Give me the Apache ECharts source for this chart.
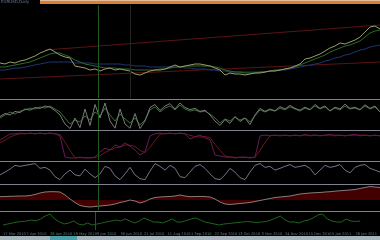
<!DOCTYPE html>
<html><head><meta charset="utf-8">
<script src="https://cdn.jsdelivr.net/npm/echarts@6/dist/echarts.min.js"></script>
<style>html,body{margin:0;padding:0;background:#000;}#c{width:380px;height:240px;}</style>
</head><body><div id="c"></div>
<script>
// ---- data (one value per bar) ----
const price = [37,36,38,37,39,40,42,44,47,49,51,48,45,43,42,34,33,32,30,31,29,31,32,30,31,30,29,26,25,27,29,30,30,31,33,35,33,34,35,36,36,35,34,32,30,25,27,26,26,25,26,27,27,28,29,29,30,31,32,34,36,41,42,44,46,49,52,54,57,56,58,60,63,68,73,74,71];
const maFast = [33,33,34,35,36,37,38,40,42,44,46,47,47,45,43,40,38,36,35,34,33,32,32,32,31,31,31,30,30,30,30,30,31,31,32,33,33,34,34,34,34,34,34,33,32,30,29,28,28,27,27,27,28,28,29,30,30,31,32,33,35,37,39,41,43,45,48,50,52,54,55,57,59,63,67,69,70];
const maSlow = [30,30,31,32,32,33,34,35,36,37,38,38,38,38,38,37,37,37,37,36,36,36,36,36,36,35,35,34,34,34,33,33,33,33,33,33,33,32,32,31,31,31,30,30,29,29,28,28,28,28,28,28,28,28,29,29,30,30,31,32,33,34,35,36,37,39,40,42,43,45,46,48,50,51,53,54,55];
const channelTop = [[9,50],[76,75]];
const channelBottom = [[0,21],[76,38]];
const stochSignal = [40,50,60,53,63,67,73,70,77,73,80,70,60,40,20,33,27,47,33,60,47,73,50,30,53,37,23,40,17,33,67,77,60,73,80,67,83,70,63,67,60,63,53,40,23,37,30,43,33,40,27,47,67,60,67,63,73,67,77,70,63,73,67,80,70,77,63,73,67,80,70,73,67,80,70,77,60];
const stochMain = [45,55,50,62,58,70,66,75,72,80,76,65,50,20,5,40,8,70,15,85,40,90,30,6,70,20,6,55,5,30,75,85,65,80,88,70,90,75,68,72,62,66,50,30,15,35,22,45,28,40,18,50,72,62,70,64,78,70,82,72,66,76,68,85,72,80,64,76,70,86,72,76,68,84,72,80,60];
const stochK = [69,79,90,90,93,90,93,90,93,90,93,90,83,10,7,7,10,7,7,10,28,41,34,52,45,59,48,34,17,28,83,90,93,90,93,90,93,90,72,80,86,76,70,17,14,10,10,7,10,10,7,10,83,86,83,86,83,86,83,86,83,88,83,86,83,86,88,83,86,83,86,88,83,86,83,86,83];
const stochD = [60,68,79,86,90,91,92,91,92,91,92,91,88,61,33,8,8,8,8,8,15,26,34,42,44,52,51,47,33,26,43,67,89,91,92,91,92,91,85,81,79,81,77,54,34,14,11,9,9,9,9,9,33,60,84,85,84,85,84,85,84,86,85,86,84,85,86,86,85,84,85,86,86,85,84,85,84];
const rsi = [38,52,67,86,81,86,90,95,71,76,62,29,14,43,62,38,33,67,43,24,43,81,71,33,14,43,76,38,19,14,57,95,81,62,86,71,29,24,52,81,90,71,43,19,14,38,71,52,24,14,52,86,95,76,81,62,71,81,90,76,81,86,71,38,62,86,76,81,90,62,48,76,86,90,71,62,52];
const macd = [3.3,3.5,3.7,3.8,4,4,4.5,5.5,7,8,8.3,8.3,8,5,1,-2.5,-5.5,-6.5,-7,-6.5,-6,-5.5,-5,-4,-2.5,-1.5,0,-1,-3,-1.5,1,2.5,3,3.3,3.5,4,5,4,3.3,3.5,3.6,3.4,3,1,-2,-4,-4.5,-4,-3.5,-3,-2.5,-1.5,-0.5,0.5,1.5,2.5,3,3.5,4,5,6,6.5,7,7.3,7.5,8,8.3,8.8,9.3,9.6,10,10.5,11.5,12.5,13.5,13,12.5];
const volume = [5,6,7,8,8.5,9,10,9,11,14,16,11,8,6,7,9,6,5,7,5,6,7,8,9,10,9,11,9,7,9,12,10,8,8,7,9,11,8,8,9.5,11,12,10,8,7,6,5,6,6.5,7,7.5,8,8.5,8,7.5,8,8.5,10,12,14,10,8,8,7,9,10,12,15,16,11,9,8,8,11,9,8.5,9];
const tickLabels = ['17 Mar 2010','7 Apr 2010','28 Apr 2010','19 May 2010','9 Jun 2010','30 Jun 2010','21 Jul 2010','11 Aug 2010','1 Sep 2010','22 Sep 2010','13 Oct 2010','3 Nov 2010','24 Nov 2010','15 Dec 2010','5 Jan 2011','26 Jan 2011'];
const tickStep = 5;
const cursorIndex = 19.6;
const gridIndex2 = 26;
const title = 'EURUSD,Daily';

const idx = a => a.map((v,i)=>[i,v]);
const N = price.length - 1;
const grids = [
  {top:5,height:93},{top:100,height:30},{top:131,height:29},
  {top:162,height:21},{top:185,height:25},{top:212,height:18}
].map(g=>Object.assign({left:0,right:0,containLabel:false},g));
const yr = [[2,95],[0,100],[0,100],[-3,103],[-10,15],[0,18]];
const xAxis = grids.map((g,i)=>({
  type:'value',gridIndex:i,min:0,max:N,interval:tickStep,
  show:i===5,axisLine:{show:false},axisTick:{show:false},splitLine:{show:false},
  axisLabel:{show:i===5,showMinLabel:true,showMaxLabel:false,hideOverlap:false,align:'left',margin:2,fontSize:3.6,color:'#5e8080',fontFamily:'DejaVu Sans',
    formatter:v=>tickLabels[Math.round(v/tickStep)]||''}
}));
const yAxis = yr.map((r,i)=>({type:'value',gridIndex:i,min:r[0],max:r[1],show:false,splitLine:{show:false}}));
const vline = (extra)=>({silent:true,symbol:'none',label:{show:false},animation:false,
  data:[{xAxis:cursorIndex,lineStyle:{color:'#1f5a1f',width:1,type:'solid'}}].concat(extra||[])});
const L = (name,data,xi,color,opts)=>Object.assign({name,type:'line',xAxisIndex:xi,yAxisIndex:xi,data:idx(data),
  showSymbol:false,symbol:'none',animation:false,lineStyle:{color,width:1},itemStyle:{color}},opts||{});
const series = [
  L('channelTop',[],0,'#5a1414',{data:channelTop}),
  L('channelBottom',[],0,'#5a1414',{data:channelBottom}),
  L('maSlow',maSlow,0,'#1e3270'),
  L('maFast',maFast,0,'#2a6a2a'),
  L('price',price,0,'#9a9a6a',{markLine:vline([{xAxis:gridIndex2,lineStyle:{color:'#242424',width:1,type:'solid'}}])}),
  L('stochSignal',stochSignal,1,'#3a6e3a'),
  L('stochMain',stochMain,1,'#7a7a7a',{markLine:vline()}),
  L('stochD',stochD,2,'#6a1818'),
  L('stochK',stochK,2,'#6a1858',{markLine:vline()}),
  L('rsi',rsi,3,'#7a6e88',{markLine:vline()}),
  L('macd',macd,4,'#8a7a7a',{areaStyle:{color:'#420000',opacity:1,origin:'auto'},markLine:vline()}),
  L('volume',volume,5,'#1e641e',{markLine:vline()})
];
const sep = y=>({type:'rect',shape:{x:0,y:y,width:380,height:1},style:{fill:'#80808f'},silent:true});
const chart = echarts.init(document.getElementById('c'),null,{renderer:'canvas'});
chart.setOption({
  backgroundColor:'#000',animation:false,
  grid:grids,xAxis,yAxis,series,
  graphic:[
    {type:'rect',shape:{x:40,y:0,width:340,height:4},style:{fill:'#d8803a'}},
    {type:'rect',shape:{x:40,y:0,width:340,height:1},style:{fill:'#e4bc98'}},
    {type:'text',left:1,top:0,style:{text:title,fontSize:4,fill:'#6a7898',fontFamily:'DejaVu Sans'}},
    sep(99),sep(130),sep(161),sep(184),sep(211),
    {type:'rect',shape:{x:0,y:236,width:380,height:4},style:{fill:'#a8b4bc'}},
    {type:'rect',shape:{x:50,y:236,width:27,height:4},style:{fill:'#4aa0a8'}}
  ]
});
</script></body></html>
